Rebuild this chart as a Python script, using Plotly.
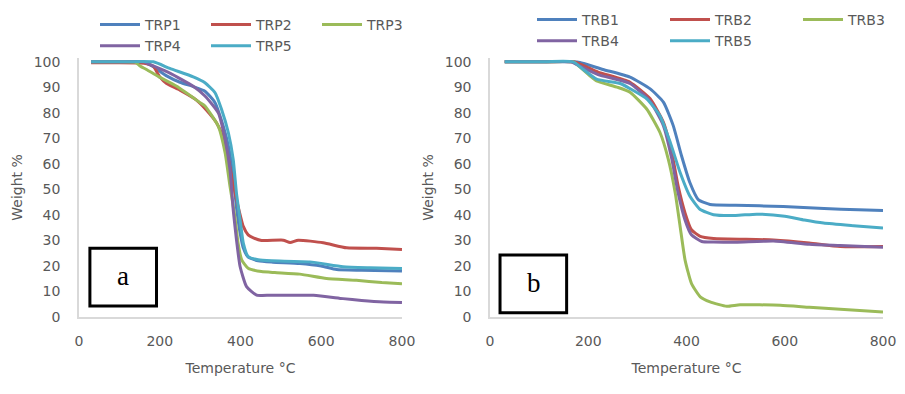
import plotly.graph_objects as go

# ---------------- data ----------------
trp1_x = [30, 100, 160, 185, 217, 250, 283, 312, 337, 353, 370, 382, 390, 399, 407, 419, 444, 480, 547, 600, 638, 700, 800]
trp1_y = [100, 100, 99.8, 98, 94.5, 92, 90.3, 88.5, 84, 77, 67, 55, 43, 33, 27, 23.5, 22, 21.5, 21, 20, 18.6, 18.3, 18]

trp2_x = [30, 100, 150, 168, 184, 200, 217, 250, 291, 316, 341, 358, 370, 382, 394, 407, 419, 432, 452, 506, 523, 543, 605, 663, 737, 800]
trp2_y = [99.6, 99.6, 99.5, 99.2, 98.3, 94.1, 91.5, 88.9, 85, 81, 76, 70, 62, 52, 43.4, 35.5, 32.2, 31, 30, 30.1, 29.2, 30.1, 29.1, 27.1, 26.9, 26.5]

trp3_x = [30, 100, 140, 150, 167, 198, 242, 300, 312, 345, 362, 374, 386, 394, 403, 419, 452, 485, 547, 613, 687, 750, 800]
trp3_y = [100, 100, 99.8, 98.5, 97, 94.1, 90.4, 84, 82.7, 74.8, 64.3, 51.2, 39.4, 29, 22.4, 19.1, 17.8, 17.4, 16.8, 15.1, 14.4, 13.5, 13]

trp4_x = [30, 100, 160, 176, 225, 283, 312, 345, 362, 374, 382, 390, 399, 415, 440, 474, 581, 654, 700, 755, 800]
trp4_y = [100, 100, 100, 98.9, 95.6, 90.4, 86.6, 80, 69.6, 57.8, 42, 30.3, 19.8, 11.9, 8.6, 8.5, 8.5, 7.2, 6.5, 5.9, 5.7]

trp5_x = [30, 100, 184, 225, 283, 312, 337, 353, 370, 382, 390, 399, 407, 419, 444, 477, 572, 654, 720, 800]
trp5_y = [100, 100, 100, 97.4, 94.1, 91.8, 87.9, 81.4, 72.2, 61.7, 48.6, 38, 29, 23.7, 22.4, 22, 21.6, 19.7, 19.3, 19]

trb1_x = [30, 100, 170, 183, 230, 285, 326, 353, 373, 390, 407, 424, 448, 500, 597, 680, 750, 800]
trb1_y = [100, 100, 100, 99.7, 97, 94, 89.4, 84.2, 75, 63.1, 52.6, 46, 44.1, 43.8, 43.3, 42.5, 42, 41.7]

trb2_x = [30, 100, 170, 185, 220, 285, 326, 353, 370, 383, 397, 410, 428, 455, 577, 650, 713, 800]
trb2_y = [100, 100, 100, 99, 96, 92, 85.5, 76.3, 64.4, 51.3, 40.8, 34.2, 31.6, 30.8, 30.2, 29, 27.6, 27.6]

trb3_x = [30, 100, 170, 176, 204, 217, 260, 285, 319, 346, 363, 377, 387, 397, 410, 428, 448, 482, 509, 591, 650, 713, 800]
trb3_y = [100, 100, 100, 99.1, 94.4, 92.5, 90, 88.1, 81.5, 72.3, 61.8, 48.7, 35.5, 22.4, 13.2, 7.9, 5.9, 4.2, 4.8, 4.6, 3.8, 3, 2]

trb4_x = [30, 100, 165, 176, 220, 285, 326, 353, 370, 383, 397, 410, 431, 455, 500, 577, 650, 713, 800]
trb4_y = [100, 100, 100, 99, 95, 91.5, 84.5, 75, 62, 48.6, 38, 32.2, 29.6, 29.4, 29.3, 29.8, 28.5, 28, 27.3]

trb5_x = [30, 100, 169, 190, 217, 265, 285, 319, 346, 367, 387, 407, 428, 455, 500, 543, 600, 640, 679, 740, 800]
trb5_y = [100, 100, 100, 97, 93.2, 91.5, 89.5, 85.5, 78.9, 68.4, 56.6, 47.3, 42.1, 40.1, 39.8, 40.3, 39.5, 38, 36.8, 35.8, 34.9]

left_names = ["TRP1", "TRP2", "TRP3", "TRP4", "TRP5"]
right_names = ["TRB1", "TRB2", "TRB3", "TRB4", "TRB5"]
x_ticks = [0, 200, 400, 600, 800]
y_ticks = [0, 10, 20, 30, 40, 50, 60, 70, 80, 90, 100]
x_title = "Temperature °C"
y_title = "Weight %"
panel_labels = ["a", "b"]

# ---------------- style ----------------
colors = ["#4F81BD", "#C0504D", "#9BBB59", "#8064A2", "#4BACC6"]
groups = ["c1", "c2", "c3", "c1", "c2"]  # legend columns
txt = "#595959"
font_fam = "DejaVu Sans, sans-serif"

fig = go.Figure()
left_data = [(trp1_x, trp1_y), (trp2_x, trp2_y), (trp3_x, trp3_y), (trp4_x, trp4_y), (trp5_x, trp5_y)]
right_data = [(trb1_x, trb1_y), (trb2_x, trb2_y), (trb3_x, trb3_y), (trb4_x, trb4_y), (trb5_x, trb5_y)]

for i, (xs, ys) in enumerate(left_data):
    fig.add_trace(go.Scatter(x=xs, y=ys, mode="lines", name=left_names[i],
                             line=dict(color=colors[i], width=3, shape="spline", smoothing=0.5),
                             xaxis="x", yaxis="y", legend="legend",
                             legendgroup="L" + groups[i]))
for i, (xs, ys) in enumerate(right_data):
    fig.add_trace(go.Scatter(x=xs, y=ys, mode="lines", name=right_names[i],
                             line=dict(color=colors[i], width=3, shape="spline", smoothing=0.5),
                             xaxis="x2", yaxis="y2", legend="legend2",
                             legendgroup="R" + groups[i]))

axis_common = dict(showgrid=False, zeroline=False, showline=True, linecolor="#D9D9D9",
                   linewidth=1.5, ticks="", tickfont=dict(size=14, color=txt, family=font_fam))

xax = dict(range=[0, 800], tickvals=x_ticks, ticklabelstandoff=10,
           title=dict(text=x_title, font=dict(size=14, color=txt, family=font_fam), standoff=16),
           **axis_common)
yax = dict(range=[0, 101.5], tickvals=y_ticks, ticklabelstandoff=14,
           title=dict(text=y_title, font=dict(size=14, color=txt, family=font_fam), standoff=8),
           **axis_common)

legend_common = dict(orientation="h", traceorder="grouped", xref="container", yref="container",
                     xanchor="left", yanchor="top", itemwidth=40,
                     groupclick="toggleitem",
                     font=dict(size=14, color=txt, family=font_fam), bgcolor="rgba(0,0,0,0)")

fig.update_layout(
    width=905, height=394,
    margin=dict(l=79, r=22, t=58, b=77, autoexpand=False),
    paper_bgcolor="white", plot_bgcolor="white",
    font=dict(family=font_fam, size=14, color=txt),
    showlegend=True,
    xaxis=dict(domain=[0, 0.4017], anchor="y", **xax),
    yaxis=dict(domain=[0, 1], anchor="x", **yax),
    xaxis2=dict(domain=[0.5112, 1], anchor="y2", **xax),
    yaxis2=dict(domain=[0, 1], anchor="x2", **yax),
    legend=dict(x=95 / 905, y=1 - 9 / 394, entrywidth=56, **legend_common),
    legend2=dict(x=532 / 905, y=1 - 4 / 394, entrywidth=78, **legend_common),
    shapes=[
        dict(type="rect", xref="x", yref="y", x0=27, x1=192, y0=4.3, y1=26.9,
             line=dict(color="black", width=3), fillcolor="white", layer="above"),
        dict(type="rect", xref="x2", yref="y2", x0=20.4, x1=156, y0=1.7, y1=24.3,
             line=dict(color="black", width=3), fillcolor="white", layer="above"),
    ],
    annotations=[
        dict(text=panel_labels[0], xref="x", yref="y", x=108, y=16, showarrow=False,
             font=dict(family="Liberation Serif, serif", size=27, color="black")),
        dict(text=panel_labels[1], xref="x2", yref="y2", x=90, y=13.5, showarrow=False,
             font=dict(family="Liberation Serif, serif", size=27, color="black")),
    ],
)

fig.write_html("out.html")
